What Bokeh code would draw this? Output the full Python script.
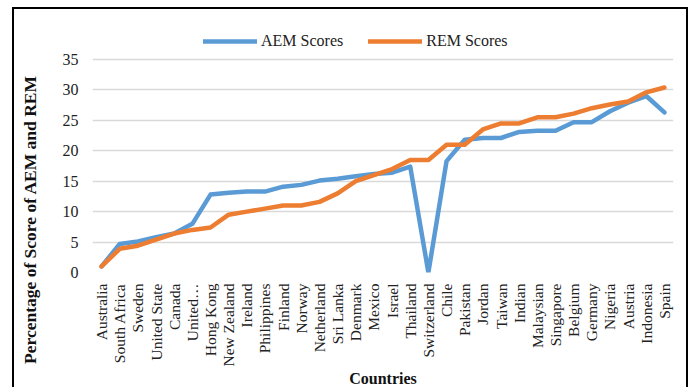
from bokeh.plotting import figure
from bokeh.layouts import row
from bokeh.models import (FactorRange, Range1d, Legend, LegendItem, Label,
                          ColumnDataSource, FixedTicker, InlineStyleSheet)
from bokeh.embed import file_html
from bokeh.resources import INLINE
import math

countries = ["Australia", "South Africa", "Sweden", "United State", "Canada", "United…",
             "Hong Kong", "New Zealand", "Ireland", "Philippines", "Finland", "Norway",
             "Netherland", "Sri Lanka", "Denmark", "Mexico", "Israel", "Thailand",
             "Switzerland", "Chile", "Pakistan", "Jordan", "Taiwan", "Indian",
             "Malaysian", "Singapore", "Belgium", "Germany", "Nigeria", "Austria",
             "Indonesia", "Spain"]
aem_scores = [1.0, 4.7, 5.1, 5.8, 6.4, 8.0, 12.8, 13.1, 13.3, 13.3, 14.1, 14.4,
              15.1, 15.4, 15.8, 16.2, 16.4, 17.4, 0.0, 18.3, 21.8, 22.1, 22.1, 23.1,
              23.3, 23.3, 24.7, 24.7, 26.5, 27.9, 29.0, 26.3]
rem_scores = [1.0, 3.9, 4.4, 5.4, 6.4, 7.0, 7.4, 9.5, 10.0, 10.5, 11.0, 11.0,
              11.6, 13.0, 15.0, 16.0, 17.0, 18.5, 18.5, 21.0, 21.0, 23.5, 24.5, 24.5,
              25.5, 25.5, 26.1, 27.0, 27.6, 28.1, 29.6, 30.4]
y_ticks = [0, 5, 10, 15, 20, 25, 30, 35]
series_names = ["AEM Scores", "REM Scores"]
y_title = "Percentage of Score of AEM and REM"
x_title = "Countries"

FONT = "Liberation Serif"
BLUE = "#5B9BD5"
ORANGE = "#ED7D31"
GRID = "#D9D9D9"

W, H = 691, 389
LEFT_W = 50
FRAME_TOP, FRAME_BOTTOM = 25, 272

src = ColumnDataSource(dict(c=countries, aem=aem_scores, rem=rem_scores))

# ---- narrow figure that only holds the y-axis title ----
t = figure(width=LEFT_W, height=H, output_backend="svg", toolbar_location=None,
           x_axis_type=None, y_axis_type=None, x_range=Range1d(0, 1), y_range=Range1d(0, 1),
           min_border=0, frame_align=False)
t.outline_line_color = None
t.grid.grid_line_color = None
t.background_fill_color = "white"
t.border_fill_color = "white"
t.add_layout(Label(x=29, y=H - 219, x_units="screen", y_units="screen", text=y_title,
                   angle=math.pi / 2, text_align="center", text_baseline="middle",
                   text_font=FONT, text_font_size="17.5px", text_font_style="bold",
                   text_color="#111111"))

# ---- main chart ----
px_per_unit = (FRAME_BOTTOM - 59) / 35.0
y_end = (FRAME_BOTTOM - FRAME_TOP) / px_per_unit   # room above 35 for the legend

p = figure(width=W - LEFT_W, height=H, output_backend="svg", toolbar_location=None,
           x_range=FactorRange(*countries, range_padding=0), y_range=Range1d(0, y_end),
           min_border_left=92 - LEFT_W, min_border_right=18, min_border_top=FRAME_TOP,
           min_border_bottom=H - FRAME_BOTTOM, frame_align=False)
p.background_fill_color = "white"
p.border_fill_color = "white"
p.outline_line_color = None

r1 = p.line("c", "aem", source=src, line_color=BLUE, line_width=4.5,
            line_join="round", line_cap="round")
r2 = p.line("c", "rem", source=src, line_color=ORANGE, line_width=4.5,
            line_join="round", line_cap="round")

p.xgrid.grid_line_color = None
p.ygrid.grid_line_color = GRID
p.ygrid.grid_line_width = 1.5
p.yaxis.ticker = FixedTicker(ticks=y_ticks)
p.yaxis.axis_line_color = None
p.yaxis.major_tick_line_color = None
p.yaxis.minor_tick_line_color = None
p.yaxis.major_tick_out = 0
p.yaxis.major_tick_in = 0
p.yaxis.major_label_standoff = 14
p.yaxis.major_label_text_font = FONT
p.yaxis.major_label_text_font_size = "16px"
p.yaxis.major_label_text_color = "#222222"

p.xaxis.axis_line_color = None
p.xaxis.major_tick_line_color = None
p.xaxis.minor_tick_line_color = None
p.xaxis.major_tick_out = 0
p.xaxis.major_tick_in = 0
p.xaxis.major_label_orientation = math.pi / 2
p.xaxis.major_label_standoff = 11
p.xaxis.major_label_text_font = FONT
p.xaxis.major_label_text_font_size = "15.5px"
p.xaxis.major_label_text_color = "#222222"
p.xaxis.axis_label = x_title
p.xaxis.axis_label_standoff = 0
p.xaxis.axis_label_text_font = FONT
p.xaxis.axis_label_text_font_size = "16px"
p.xaxis.axis_label_text_font_style = "bold"
p.xaxis.axis_label_text_color = "#111111"

legend = Legend(items=[LegendItem(label=series_names[0], renderers=[r1]),
                       LegendItem(label=series_names[1], renderers=[r2])],
                orientation="horizontal", location=(111, FRAME_BOTTOM - 51),
                glyph_width=54, glyph_height=20, label_height=20,
                label_standoff=4, spacing=25, padding=0, margin=0,
                border_line_color=None, background_fill_alpha=0,
                label_text_font=FONT, label_text_font_size="16px",
                label_text_color="#222222")
p.add_layout(legend)

border_css = InlineStyleSheet(css="""
:host::after {
  content: "";
  position: absolute;
  left: 12px; top: 7px; width: 676px; height: 400px;
  border: 2px solid black;
  box-sizing: border-box;
  pointer-events: none;
}
""")

layout = row(t, p, spacing=0, stylesheets=[border_css])

open("out.html", "w").write(file_html(layout, INLINE))
